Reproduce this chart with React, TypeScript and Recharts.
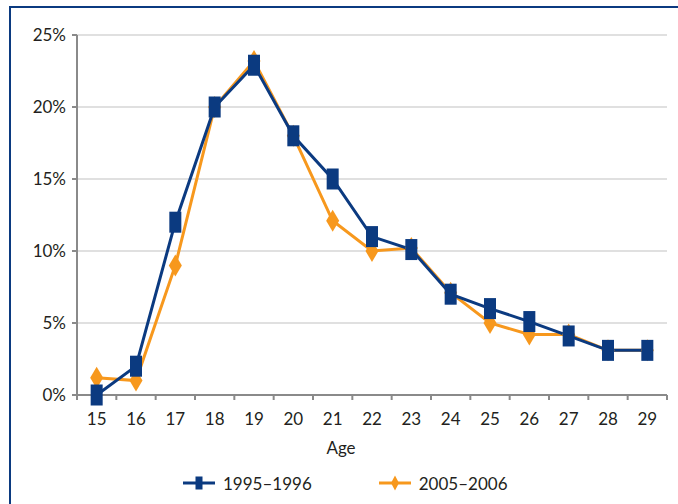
import { CartesianGrid, Legend, Line, LineChart, XAxis, YAxis } from "recharts";

const FONT = "Lato, 'Open Sans', sans-serif";
const NAVY = "#0b3a80";
const ORANGE = "#f7981d";
const AXIS_GREY = "#8a8a8a";
const TEXT = "#231f20";

// tick lengths used by the custom x tick (tickSize + tickMargin)
const TICK_SIZE = 5;
const TICK_MARGIN = 13;

const ages = ["15", "16", "17", "18", "19", "20", "21", "22", "23", "24", "25", "26", "27", "28", "29"];
const share1995 = [0, 2.0, 12.0, 20.0, 22.9, 18.0, 15.0, 11.0, 10.1, 7.0, 6.0, 5.1, 4.1, 3.1, 3.1];
const share2005 = [1.2, 1.0, 9.0, 20.0, 23.2, 18.0, 12.1, 10.0, 10.2, 7.1, 5.0, 4.2, 4.2, 3.1, 3.1];
const yTicks = [0, 5, 10, 15, 20, 25];
const seriesNames = ["1995–1996", "2005–2006"];

const data = ages.map((age, i) => ({ age, a: share1995[i], b: share2005[i] }));

function AgeTick(props: any) {
  const { x, y, payload, index, visibleTicksCount } = props;
  const half = payload?.offset ?? 0;
  const axisY = y - TICK_SIZE - TICK_MARGIN;
  const isLast = index === visibleTicksCount - 1;
  return (
    <g>
      <line x1={x - half} x2={x - half} y1={axisY} y2={axisY + TICK_SIZE} stroke={AXIS_GREY} strokeWidth={2} />
      {isLast && (
        <line x1={x + half} x2={x + half} y1={axisY} y2={axisY + TICK_SIZE} stroke={AXIS_GREY} strokeWidth={2} />
      )}
      <text x={x} y={y} dy="0.71em" textAnchor="middle" fill={TEXT} fontSize={17} fontFamily={FONT}>
        {payload.value}
      </text>
    </g>
  );
}

function SquareDot(props: any) {
  const { cx, cy, index } = props;
  if (cx == null || cy == null) return <g key={index} />;
  return <rect key={index} x={cx - 6} y={cy - 10.5} width={12} height={21} fill={NAVY} />;
}

function DiamondDot(props: any) {
  const { cx, cy, index } = props;
  if (cx == null || cy == null) return <g key={index} />;
  const pts = `${cx},${cy - 11} ${cx + 6.5},${cy} ${cx},${cy + 11} ${cx - 6.5},${cy}`;
  return <polygon key={index} points={pts} fill={ORANGE} />;
}

function LegendContent() {
  const item = (name: string, color: string, square: boolean) => (
    <div style={{ display: "flex", alignItems: "center" }}>
      <svg width={40} height={20}>
        <line x1={0} x2={32} y1={10} y2={10} stroke={color} strokeWidth={3} />
        {square ? (
          <rect x={12.5} y={3.5} width={7} height={13} fill={color} />
        ) : (
          <polygon points="16,2.5 20,10 16,17.5 12,10" fill={color} />
        )}
      </svg>
      <span style={{ fontFamily: FONT, fontSize: 17, color: TEXT }}>{name}</span>
    </div>
  );
  return (
    <div style={{ display: "flex", alignItems: "center", height: 30, paddingLeft: 183, gap: 67 }}>
      {item(seriesNames[0], NAVY, true)}
      {item(seriesNames[1], ORANGE, false)}
    </div>
  );
}

export default function App() {
  return (
    <div style={{ position: "fixed", left: 0, top: 0, width: 678, height: 504, background: "#fff" }}>
      <div
        style={{
          position: "absolute",
          left: 9,
          top: 6,
          right: 0,
          bottom: 0,
          borderTop: `2px solid ${NAVY}`,
          borderLeft: `2px solid ${NAVY}`,
        }}
      />
      <div style={{ position: "absolute", left: 0, top: 0 }}>
        <LineChart width={678} height={504} data={data} margin={{ top: 35, right: 11, left: 0, bottom: 6 }}>
          <CartesianGrid vertical={false} stroke="#d6d6d6" strokeWidth={1.5} />
          <XAxis
            dataKey="age"
            scale="band"
            height={73}
            interval={0}
            tickLine={false}
            tickSize={TICK_SIZE}
            tickMargin={TICK_MARGIN}
            axisLine={{ stroke: AXIS_GREY, strokeWidth: 2 }}
            tick={<AgeTick />}
            label={{ value: "Age", position: "insideBottom", offset: 14, dx: -31, fill: TEXT, fontSize: 17, fontFamily: FONT }}
          />
          <YAxis
            width={77}
            domain={[0, 25]}
            ticks={yTicks}
            tickFormatter={(v: number) => `${v}%`}
            tickSize={5}
            tickMargin={6}
            tickLine={{ stroke: AXIS_GREY, strokeWidth: 2 }}
            axisLine={{ stroke: AXIS_GREY, strokeWidth: 2 }}
            tick={{ fill: TEXT, fontSize: 17, fontFamily: FONT }}
          />
          <Legend verticalAlign="bottom" align="left" content={<LegendContent />} wrapperStyle={{ height: 30, left: 0, width: 678 }} />
          <Line
            type="linear"
            dataKey="b"
            name={seriesNames[1]}
            stroke={ORANGE}
            strokeWidth={3}
            dot={DiamondDot}
            activeDot={false}
            isAnimationActive={false}
          />
          <Line
            type="linear"
            dataKey="a"
            name={seriesNames[0]}
            stroke={NAVY}
            strokeWidth={3}
            dot={SquareDot}
            activeDot={false}
            isAnimationActive={false}
          />
        </LineChart>
      </div>
    </div>
  );
}
